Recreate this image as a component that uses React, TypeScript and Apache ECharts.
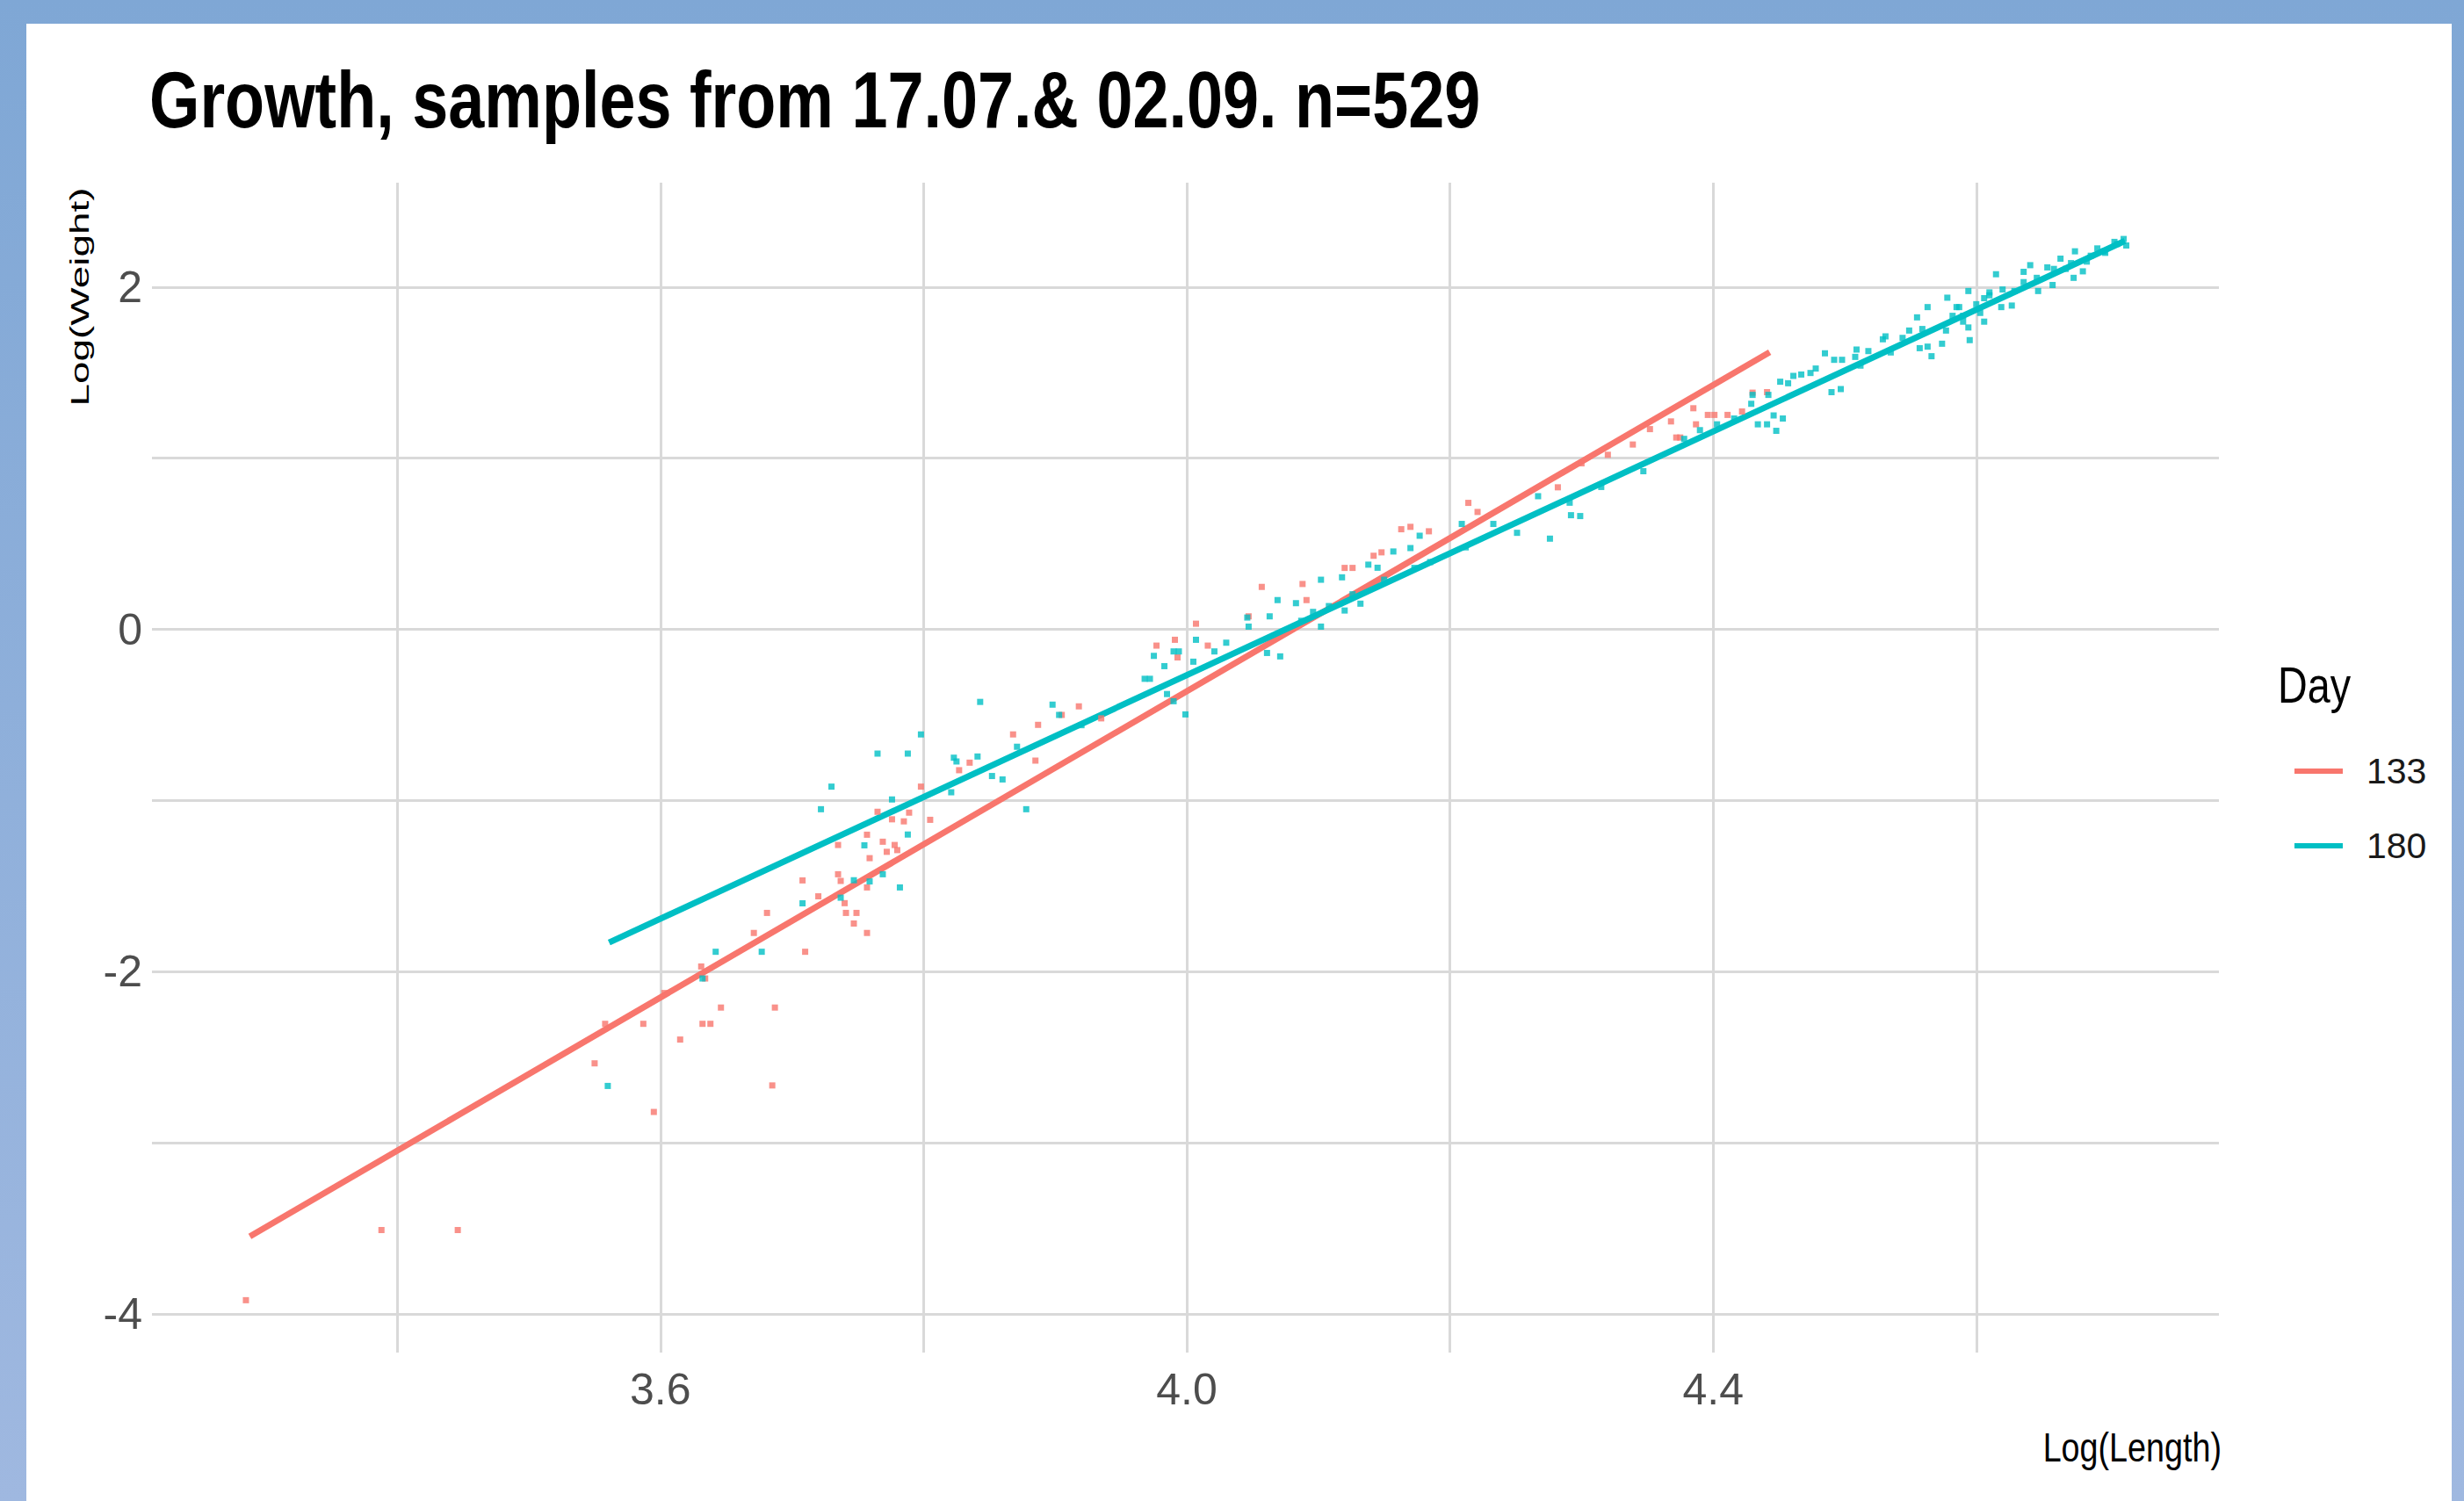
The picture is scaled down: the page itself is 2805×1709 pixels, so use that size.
import React, { useEffect, useRef } from 'react';
import * as echarts from 'echarts';

// ---------- texts ----------
const titleText = 'Growth, samples from 17.07.& 02.09. n=529';
const xAxisTitle = 'Log(Length)';
const yAxisTitle = 'Log(Weight)';
const legendTitle = 'Day';
const days = ['133', '180'];
const dayColors = ['#F8766D', '#00BFC4'];

// ---------- axes ----------
const xRange = [3.2136, 4.7844];
const yRange = [-4.226, 2.61];
const xGridValues = [3.4, 3.6, 3.8, 4.0, 4.2, 4.4, 4.6];
const xTickLabels = [3.6, 4.0, 4.4];
const yGridValues = [-4, -3, -2, -1, 0, 1, 2];
const yTickLabels = [-4, -2, 0, 2];

// ---------- fitted lines (lm) ----------
const fit133: [number, number][] = [[3.288, -3.547], [4.443, 1.62]];
const fit180: [number, number][] = [[3.561, -1.83], [4.713, 2.27]];

// ---------- observations, Day 133 ----------
const obs133: [number, number][] = [
  [3.285, -3.92], [3.388, -3.51], [3.446, -3.51], [3.550, -2.536], [3.595, -2.82],
  [3.558, -2.305], [3.603, -2.125], [3.631, -1.97],
  [3.887, -0.558], [3.868, -0.614], [3.885, -0.767], [3.827, -0.823], [3.835, -0.779],
  [3.798, -0.919], [3.765, -1.066], [3.776, -1.11], [3.785, -1.122], [3.789, -1.071],
  [3.805, -1.113], [3.757, -1.2], [3.735, -1.26], [3.769, -1.241], [3.778, -1.26],
  [3.759, -1.337], [3.735, -1.431], [3.737, -1.47], [3.708, -1.467], [3.757, -1.508],
  [3.720, -1.56], [3.740, -1.60], [3.741, -1.657], [3.749, -1.657], [3.747, -1.719],
  [3.757, -1.774], [3.681, -1.657], [3.671, -1.774], [3.710, -1.884], [3.634, -2.04],
  [3.646, -2.21], [3.687, -2.21], [3.632, -2.305], [3.638, -2.305], [3.615, -2.397],
  [3.587, -2.305], [3.685, -2.665], [3.780, -1.29], [3.772, -1.30],
  [3.905, -0.50], [3.918, -0.45], [3.935, -0.52],
  [4.007, 0.033], [3.977, -0.095], [3.991, -0.061], [4.016, -0.095], [3.993, -0.164],
  [4.047, 0.076], [4.057, 0.248], [4.088, 0.265], [4.091, 0.171], [4.120, 0.359],
  [4.126, 0.359], [4.142, 0.43], [4.148, 0.45], [4.163, 0.585], [4.170, 0.599],
  [4.184, 0.573], [4.214, 0.739], [4.221, 0.686], [4.282, 0.83],
  [4.30, 0.97], [4.32, 1.02], [4.339, 1.08], [4.352, 1.17],
  [4.385, 1.292], [4.396, 1.253], [4.401, 1.253], [4.411, 1.253], [4.368, 1.215],
  [4.387, 1.198], [4.372, 1.121], [4.375, 1.121], [4.441, 1.386], [4.43, 1.383],
  [4.422, 1.273],
];

// ---------- observations, Day 180 ----------
const obs180: [number, number][] = [
  [3.560, -2.668], [3.632, -2.04], [3.642, -1.884], [3.677, -1.884], [3.708, -1.601],
  [3.737, -1.568], [3.782, -1.508], [3.747, -1.466], [3.759, -1.473], [3.769, -1.431],
  [3.755, -1.262], [3.788, -1.199], [3.722, -1.051], [3.730, -0.919], [3.776, -0.994],
  [3.765, -0.726], [3.788, -0.726], [3.798, -0.614], [3.843, -0.424], [3.823, -0.75],
  [3.825, -0.772], [3.841, -0.743], [3.821, -0.952], [3.852, -0.857], [3.860, -0.877],
  [3.878, -1.051], [3.871, -0.686], [3.898, -0.44], [3.903, -0.50], [3.92, -0.56],
  [3.999, -0.497], [3.975, -0.155], [3.983, -0.215], [3.968, -0.289], [3.972, -0.289],
  [3.990, -0.129], [3.994, -0.129], [4.007, -0.061], [4.005, -0.189], [4.021, -0.129],
  [4.030, -0.078], [3.985, -0.378], [3.990, -0.42], [4.061, -0.138], [4.071, -0.158],
  [4.046, 0.069], [4.047, 0.016], [4.063, 0.076], [4.069, 0.171], [4.083, 0.153],
  [4.102, 0.290], [4.102, 0.016], [4.120, 0.110], [4.118, 0.304], [4.132, 0.150],
  [4.138, 0.378], [4.145, 0.36], [4.157, 0.455], [4.170, 0.475], [4.177, 0.547],
  [4.087, 0.05], [4.096, 0.102], [4.108, 0.136], [4.126, 0.205], [4.150, 0.29],
  [4.173, 0.359], [4.185, 0.393], [4.212, 0.479], [4.251, 0.564], [4.292, 0.667],
  [4.276, 0.530], [4.299, 0.662], [4.267, 0.778], [4.209, 0.616], [4.233, 0.616],
  [4.291, 0.74], [4.315, 0.832], [4.347, 0.924],
  [4.378, 1.113], [4.390, 1.164], [4.403, 1.198], [4.416, 1.232], [4.429, 1.318],
  [4.442, 1.37], [4.457, 1.438], [4.467, 1.489], [4.478, 1.524], [4.498, 1.575],
  [4.508, 1.592], [4.518, 1.626], [4.529, 1.695], [4.544, 1.703], [4.559, 1.755],
  [4.582, 1.832], [4.587, 1.883], [4.590, 1.798], [4.600, 1.90], [4.603, 1.849],
  [4.610, 1.952], [4.620, 1.986], [4.636, 2.029], [4.646, 2.054], [4.659, 2.106],
  [4.672, 2.14], [4.687, 2.183], [4.697, 2.209], [4.707, 2.252],
  [4.430, 1.37], [4.434, 1.198], [4.441, 1.198], [4.446, 1.25], [4.453, 1.232],
  [4.448, 1.16], [4.451, 1.447], [4.461, 1.481], [4.474, 1.498], [4.485, 1.613],
  [4.490, 1.386], [4.497, 1.404], [4.492, 1.575], [4.509, 1.635], [4.512, 1.541],
  [4.531, 1.712], [4.535, 1.618], [4.549, 1.746], [4.555, 1.823], [4.557, 1.643],
  [4.563, 1.883], [4.563, 1.652], [4.566, 1.596], [4.574, 1.669], [4.577, 1.746],
  [4.578, 1.938], [4.585, 1.883], [4.590, 1.832], [4.594, 1.977], [4.595, 1.69],
  [4.594, 1.764], [4.606, 1.798], [4.606, 1.935], [4.610, 1.969], [4.615, 2.075],
  [4.619, 1.883], [4.627, 1.892], [4.629, 1.977], [4.636, 2.089], [4.641, 2.128],
  [4.647, 1.977], [4.658, 2.012], [4.654, 2.115], [4.664, 2.166], [4.668, 2.106],
  [4.674, 2.054], [4.675, 2.209], [4.681, 2.092], [4.684, 2.149], [4.692, 2.226],
  [4.698, 2.2], [4.705, 2.264], [4.712, 2.281], [4.714, 2.243],
];

const NARROW = "'Liberation Sans Narrow', 'Arial Narrow', 'Liberation Sans', Arial, sans-serif";
const SANS = "'Liberation Sans', Arial, sans-serif";

export default function App() {
  const ref = useRef<HTMLDivElement>(null);

  useEffect(() => {
    if (!ref.current) return;
    const chart = echarts.init(ref.current, undefined, { renderer: 'svg' });
    const gridColor = '#D9D9D9';

    chart.setOption({
      animation: false,
      grid: { left: 173, right: 279, top: 208, bottom: 169, containLabel: false },
      xAxis: {
        type: 'value',
        min: xRange[0],
        max: xRange[1],
        axisLine: { show: false },
        axisTick: { show: false, customValues: xGridValues },
        axisLabel: {
          customValues: xTickLabels,
          formatter: (v: number) => v.toFixed(1),
          margin: 17,
          fontSize: 50,
          color: '#4D4D4D',
          fontFamily: NARROW,
        },
        splitLine: { show: true, lineStyle: { color: gridColor, width: 3 } },
      },
      yAxis: {
        type: 'value',
        min: yRange[0],
        max: yRange[1],
        axisLine: { show: false },
        axisTick: { show: false, customValues: yGridValues },
        axisLabel: {
          customValues: yTickLabels,
          formatter: (v: number) => String(v),
          margin: 11,
          fontSize: 50,
          color: '#4D4D4D',
          fontFamily: NARROW,
        },
        splitLine: { show: true, lineStyle: { color: gridColor, width: 3 } },
      },
      legend: {
        show: true,
        orient: 'vertical',
        left: 2607,
        top: 852,
        itemWidth: 55,
        itemHeight: 6,
        itemGap: 43,
        selectedMode: false,
        data: days.map((d, i) => ({ name: d, icon: 'rect', itemStyle: { color: dayColors[i] } })),
        textStyle: {
          fontSize: 41,
          lineHeight: 42,
          fontFamily: NARROW,
          color: '#1A1A1A',
          padding: [0, 0, 0, 22],
        },
      },
      graphic: [
        {
          type: 'text',
          x: 170,
          y: 114,
          scaleX: 0.82,
          style: {
            text: titleText,
            fontSize: 90,
            fontWeight: 'bold',
            fontFamily: SANS,
            fill: '#000000',
            textAlign: 'left',
            textVerticalAlign: 'middle',
          },
        },
        {
          type: 'text',
          x: 2529,
          y: 1648,
          scaleX: 0.82,
          style: {
            text: xAxisTitle,
            fontSize: 46,
            fontFamily: SANS,
            fill: '#000000',
            textAlign: 'right',
            textVerticalAlign: 'middle',
          },
        },
        {
          type: 'text',
          x: 91,
          y: 338,
          rotation: Math.PI / 2,
          scaleX: 1.53,
          style: {
            text: yAxisTitle,
            fontSize: 30,
            fontFamily: SANS,
            fill: '#000000',
            textAlign: 'center',
            textVerticalAlign: 'middle',
          },
        },
        {
          type: 'text',
          x: 2593,
          y: 780,
          scaleX: 0.82,
          style: {
            text: legendTitle,
            fontSize: 57,
            fontFamily: SANS,
            fill: '#000000',
            textAlign: 'left',
            textVerticalAlign: 'middle',
          },
        },
      ],
      series: [
        {
          name: days[0], type: 'line', data: fit133, showSymbol: false, z: 2,
          lineStyle: { color: dayColors[0], width: 7 }, itemStyle: { color: dayColors[0] },
        },
        {
          name: days[1], type: 'line', data: fit180, showSymbol: false, z: 2,
          lineStyle: { color: dayColors[1], width: 7 }, itemStyle: { color: dayColors[1] },
        },
        {
          name: days[0], type: 'scatter', data: obs133, symbol: 'rect', symbolSize: 7, z: 3,
          itemStyle: { color: dayColors[0] },
        },
        {
          name: days[1], type: 'scatter', data: obs180, symbol: 'rect', symbolSize: 7, z: 3,
          itemStyle: { color: dayColors[1] },
        },
      ],
    });

    return () => chart.dispose();
  }, []);

  return (
    <div
      style={{
        position: 'fixed',
        left: 0,
        top: 0,
        width: 2805,
        height: 1709,
        background: 'linear-gradient(180deg, #7FA7D5 0%, #9FB8E0 100%)',
      }}
    >
      <div
        style={{
          position: 'absolute',
          left: 30,
          top: 27,
          width: 2761,
          height: 1682,
          background: '#FFFFFF',
        }}
      />
      <div ref={ref} style={{ position: 'absolute', left: 0, top: 0, width: 2805, height: 1709 }} />
    </div>
  );
}
